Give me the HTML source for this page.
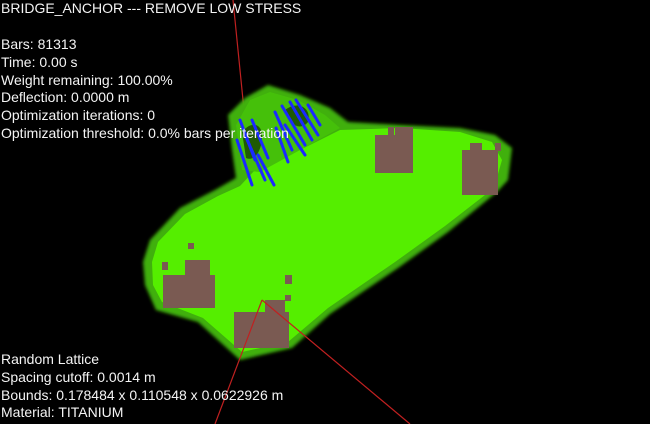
<!DOCTYPE html>
<html><head><meta charset="utf-8"><style>
html,body{margin:0;padding:0;background:#000;}
#wrap{position:relative;width:650px;height:424px;overflow:hidden;background:#000;font-family:"Liberation Sans",sans-serif;}
.t{position:absolute;left:1px;color:#f4f4f4;font-size:14px;line-height:16px;white-space:nowrap;}
</style></head><body>
<div id="wrap">
<svg width="650" height="424" style="position:absolute;left:0;top:0">
<defs><filter id="f"><feGaussianBlur stdDeviation="1.5"/></filter></defs>
<line x1="233" y1="0" x2="249" y2="160" stroke="#c02020" stroke-width="1.2"/>
<g>
<path filter="url(#f)" fill="#3fb010" d="M143,262 L150,240 L180,208 L215,190 L236,178 L232,150 L228,115 L245,98 L268,85 L300,95 L330,108 L348,122 L400,125 L460,128 L495,135 L512,148 L508,180 L497,192 L448,232 L398,268 L330,314 L292,348 L240,360 L198,322 L156,310 L145,285 Z"/>
<path fill="#55ee00" d="M152,262 L158,242 L185,214 L218,196 L240,186 L255,170 L300,150 L340,130 L400,128 L460,132 L492,142 L502,160 L494,188 L445,226 L395,262 L328,308 L288,342 L242,352 L203,318 L162,302 L153,285 Z"/>
<path fill="#45c00a" d="M236,125 L250,100 L270,92 L298,100 L325,115 L340,128 L300,150 L260,172 L242,170 Z"/>
<path fill="#1f5a04" d="M242,132 C252,120 262,124 262,136 C262,150 255,162 246,158 Z"/>
<path fill="#1f5a04" d="M285,110 C298,100 312,108 308,122 C302,130 290,128 285,110 Z"/>
</g>
<g fill="#7a5a52">
<rect x="375" y="135" width="38" height="38"/><rect x="395" y="127" width="18" height="12"/><rect x="388" y="127" width="6" height="10"/>
<rect x="462" y="150" width="36" height="45"/><rect x="470" y="143" width="12" height="10"/><rect x="495" y="143" width="6" height="8"/>
<rect x="163" y="275" width="52" height="33"/><rect x="185" y="260" width="25" height="18"/><rect x="162" y="262" width="6" height="8"/><rect x="188" y="243" width="6" height="6"/>
<rect x="234" y="312" width="55" height="36"/><rect x="265" y="300" width="20" height="14"/><rect x="285" y="275" width="7" height="9"/><rect x="285" y="295" width="6" height="6"/>
</g>
<g stroke="#1a2aff" stroke-width="3" stroke-linecap="round">
<line x1="240" y1="120" x2="255" y2="160"/><line x1="245" y1="135" x2="265" y2="180"/>
<line x1="252" y1="120" x2="268" y2="158"/><line x1="258" y1="155" x2="274" y2="185"/>
<line x1="275" y1="112" x2="292" y2="150"/><line x1="282" y1="106" x2="305" y2="145"/>
<line x1="290" y1="102" x2="312" y2="140"/><line x1="296" y1="100" x2="318" y2="135"/>
<line x1="276" y1="128" x2="288" y2="162"/><line x1="308" y1="105" x2="320" y2="125"/>
<line x1="237" y1="140" x2="252" y2="185"/><line x1="285" y1="125" x2="305" y2="155"/>
</g>
<line x1="262" y1="300" x2="215" y2="424" stroke="#c02020" stroke-width="1.2"/>
<line x1="262" y1="300" x2="410" y2="424" stroke="#c02020" stroke-width="1.2"/>
</svg>
<div class="t" style="top:0px">BRIDGE_ANCHOR --- REMOVE LOW STRESS</div>
<div class="t" style="top:36px;line-height:17.8px">Bars: 81313<br>Time: 0.00 s<br>Weight remaining: 100.00%<br>Deflection: 0.0000 m<br>Optimization iterations: 0<br>Optimization threshold: 0.0% bars per iteration</div>
<div class="t" style="top:351px;line-height:17.8px">Random Lattice<br>Spacing cutoff: 0.0014 m<br>Bounds: 0.178484 x 0.110548 x 0.0622926 m<br>Material: TITANIUM</div>
</div>
</body></html>
